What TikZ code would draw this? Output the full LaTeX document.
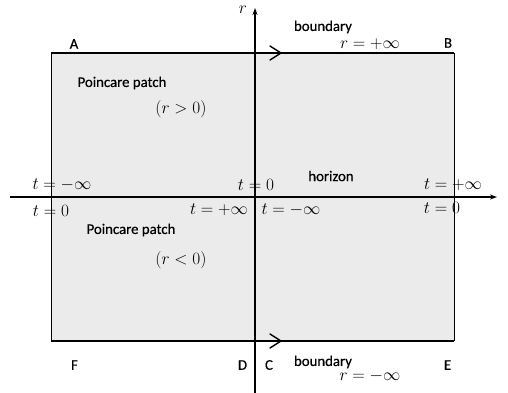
\documentclass[tikz,border=0pt]{standalone}
\usepackage{fontspec}
\newfontface\lblfont{Carlito}[FakeBold=0.4]
\usetikzlibrary{arrows.meta,calc}
\tikzset{
  lbl/.style={font=\lblfont\fontsize{14.8}{16}\selectfont, inner sep=0pt},
  mth/.style={font=\fontsize{17.5}{19}\selectfont, inner sep=0pt},
  thickedge/.style={line width=1.8pt},
  axis/.style={line width=1.6pt, -{Stealth[length=7pt,width=5pt]}},
  chev/.style={line width=1.4pt, line cap=round, line join=miter},
}
\begin{document}
\begin{tikzpicture}[x=1pt,y=-1pt]
\useasboundingbox (0,0) rectangle (508,393);
% region
\coordinate (A0) at (51,53);
\coordinate (B0) at (454,53);
\coordinate (E0) at (454,341);
\coordinate (F0) at (51,341);
\fill[gray!16] (A0) rectangle (E0);
\draw[line width=0.9pt] (A0) -- (F0);
\draw[line width=0.9pt] (B0) -- (E0);
\draw[thickedge] (A0) -- (B0);
\draw[thickedge] (F0) -- (E0);
% chevrons on boundaries
\coordinate (ct) at (281,53);
\coordinate (cb) at (281,341);
\draw[chev] ($(ct)+(-11,-7)$) -- (ct) -- ($(ct)+(-11,7)$);
\draw[chev] ($(cb)+(-11,-7)$) -- (cb) -- ($(cb)+(-11,7)$);
% axes
\coordinate (vbot) at (255,393);
\coordinate (vtop) at (255,8);
\coordinate (hl) at (10,197);
\coordinate (hr) at (497,197);
\draw[axis] (vbot) -- (vtop);
\draw[axis] (hl) -- (hr);
% labels
\node[mth] (rlab) at (243,10) {$r$};
\node[lbl] (bdtop) at (323,27) {boundary};
\node[mth] (rinf) at (370,44) {$r=+\infty$};
\node[lbl] (A) at (74,44) {A};
\node[lbl] (B) at (448,43) {B};
\node[lbl] (pp1) at (122,83) {Poincare patch};
\node[mth] (rg) at (181,109) {$(r>0)$};
\node[mth] (t1) at (62,185) {$t=-\infty$};
\node[mth] (t2) at (256,185) {$t=0$};
\node[lbl] (hor) at (331,176) {horizon};
\node[mth] (t3) at (453,185) {$t=+\infty$};
\node[mth] (t4) at (51,211) {$t=0$};
\node[mth] (t5) at (219,210) {$t=+\infty$};
\node[mth] (t6) at (291,210) {$t=-\infty$};
\node[mth] (t7) at (442,207.5) {$t=0$};
\node[lbl] (pp2) at (131,230) {Poincare patch};
\node[mth] (rl) at (181,260) {$(r<0)$};
\node[lbl] (F) at (74.5,365) {F};
\node[lbl] (D) at (242.5,365) {D};
\node[lbl] (C) at (269,365) {C};
\node[lbl] (bdbot) at (323,362) {boundary};
\node[mth] (rminf) at (370,376) {$r=-\infty$};
\node[lbl] (E) at (447.5,365) {E};
\end{tikzpicture}
\end{document}
